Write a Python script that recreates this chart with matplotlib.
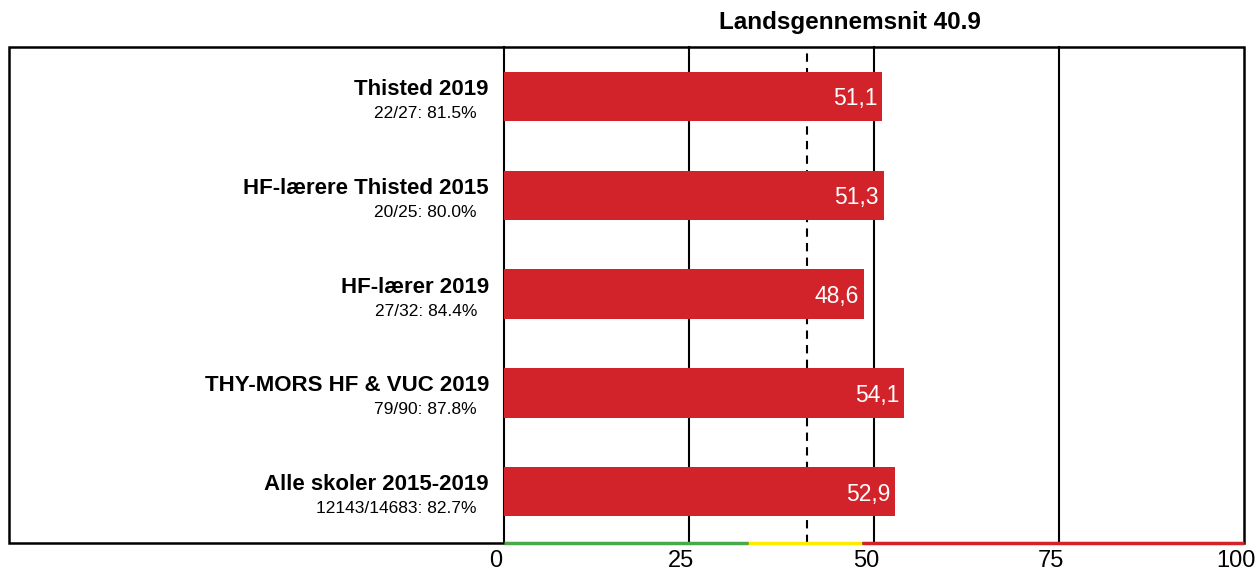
import numpy as np
import matplotlib
matplotlib.use("Agg")
import matplotlib.pyplot as plt
import matplotlib.transforms as mtransforms
from matplotlib.patches import Rectangle

plt.rcParams['font.family'] = ['Liberation Sans', 'DejaVu Sans']

# data
groups = ["Thisted 2019", "HF-lærere Thisted 2015", "HF-lærer 2019",
          "THY-MORS HF & VUC 2019", "Alle skoler 2015-2019"]
responses = ["22/27: 81.5%", "20/25: 80.0%", "27/32: 84.4%",
             "79/90: 87.8%", "12143/14683: 82.7%"]
values = [51.1, 51.3, 48.6, 54.1, 52.9]
national_avg = 40.9
xticks = [0, 25, 50, 75, 100]
# coloured scale along the bottom: (start, end, colour)
scale_bands = [(0, 33, '#4aa84a'), (33, 48.4, '#ffea00'), (48.4, 100, '#d2232a')]

bar_color = '#d2232a'

fig = plt.figure(figsize=(12.56, 5.73), dpi=100)
W, H = 1256, 573
ax = fig.add_axes([504 / W, 1 - 543 / H, 740 / W, 496 / H])
ax.set_facecolor('none')

# outer frame
fig.add_artist(Rectangle((9 / W, 1 - 543 / H), (1244 - 9) / W, 496 / H,
                         transform=fig.transFigure, fill=False,
                         edgecolor='black', lw=1.8, zorder=-1))

y = np.arange(len(groups))
ax.set_xlim(0, 100)
ax.set_ylim(4.52, -0.5)

for xv in xticks[:-1]:
    ax.axvline(xv, color='black', lw=1.5, zorder=1, clip_on=False)
ax.axvline(national_avg, color='black', lw=1.5, ls=(0, (4, 3)), zorder=2)

ax.barh(y, values, height=0.5, color=bar_color, zorder=3)

for i, v in enumerate(values):
    ax.annotate(f"{v:.1f}".replace('.', ','), xy=(v, i), xytext=(-5, 0),
                textcoords='offset pixels', ha='right', va='center_baseline',
                color='white', fontsize=16.5, zorder=5)
    ax.annotate(groups[i], xy=(0, i), xytext=(-15, 1.5),
                textcoords='offset pixels', ha='right', va='baseline',
                fontsize=16, fontweight='bold', annotation_clip=False)
    ax.annotate(responses[i], xy=(0, i), xytext=(-27, -21.5),
                textcoords='offset pixels', ha='right', va='baseline',
                fontsize=12.5, annotation_clip=False)

# coloured scale line
for x0, x1, c in scale_bands:
    ax.plot([x0, x1], [4.52, 4.52], color=c, lw=2.5, clip_on=False,
            solid_capstyle='butt', zorder=4)

for s in ax.spines.values():
    s.set_visible(False)
ax.set_yticks([])
ax.set_xticks(xticks)
ax.set_xticklabels([str(t) for t in xticks], fontsize=17)
ax.tick_params(axis='x', length=0, pad=5)
shift = mtransforms.ScaledTranslation(-8 / 100, 0, fig.dpi_scale_trans)
for lab in ax.get_xticklabels():
    lab.set_transform(lab.get_transform() + shift)

fig.text(850 / W, 1 - 22 / H, f"Landsgennemsnit {national_avg}",
         ha='center', va='center', fontsize=17.5, fontweight='bold')

fig.savefig("out.png", dpi=100)
